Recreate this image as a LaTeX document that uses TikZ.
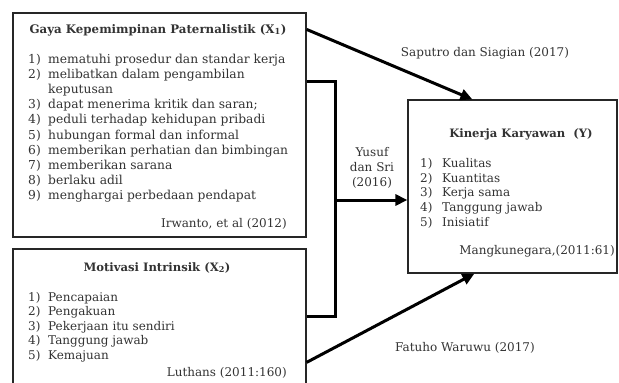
\documentclass[tikz,border=0pt]{standalone}
\usepackage{fontspec}
\setmainfont{DejaVu Serif}
\usetikzlibrary{arrows.meta,calc}
\definecolor{txt}{HTML}{333333}
\newcommand\itm[2]{\makebox[20pt][l]{#1)}#2}
\newcommand\itmy[2]{\makebox[22pt][l]{#1)}#2}
\begin{document}
\begin{tikzpicture}[x=1pt,y=-1pt,
  box/.style={draw=black!85,line width=1.2pt,inner sep=0pt},
  lbl/.style={text=txt,font=\fontsize{12}{15.1}\selectfont,inner sep=0pt},
  ttl/.style={text=txt,font=\fontsize{11.6}{14}\selectfont\bfseries,inner sep=0pt},
  conn/.style={line width=3pt,line join=miter},
  arr/.style={conn,-{Triangle[length=12pt,width=11pt]}}]
\useasboundingbox (0,0) rectangle (619,383);
\fill[white] (0,0) rectangle (619,383);
% boxes
\node[box,minimum width=293pt,minimum height=224pt] (x1) at (159.5,125) {};
\node[box,minimum width=293pt,minimum height=160pt] (x2) at (159.5,329) {};
\node[box,minimum width=209pt,minimum height=173pt] (y) at (512.5,186.5) {};
% X1 texts
\node[ttl,anchor=base,font=\fontsize{11.8}{14}\selectfont\bfseries] (x1t) at (158,33) {Gaya Kepemimpinan Paternalistik (X\textsubscript{1})};
\node[lbl,anchor=north west,align=left,font=\fontsize{12.3}{15.1}\selectfont] (x1l) at (28,54) {\itm{1}{mematuhi prosedur dan standar kerja}\\
\itm{2}{melibatkan dalam pengambilan}\\
\hspace*{20pt}keputusan\\
\itm{3}{dapat menerima kritik dan saran;}\\
\itm{4}{peduli terhadap kehidupan pribadi}\\
\itm{5}{hubungan formal dan informal}\\
\itm{6}{memberikan perhatian dan bimbingan}\\
\itm{7}{memberikan sarana}\\
\itm{8}{berlaku adil}\\
\itm{9}{menghargai perbedaan pendapat}};
\node[lbl,anchor=base east] (x1s) at (287,227) {Irwanto, et al (2012)};
% X2 texts
\node[ttl,anchor=base] (x2t) at (157,271) {Motivasi Intrinsik (X\textsubscript{2})};
\node[lbl,anchor=north west,align=left,font=\fontsize{12}{14.5}\selectfont] (x2l) at (28,292) {\itm{1}{Pencapaian}\\
\itm{2}{Pengakuan}\\
\itm{3}{Pekerjaan itu sendiri}\\
\itm{4}{Tanggung jawab}\\
\itm{5}{Kemajuan}};
\node[lbl,anchor=base east] (x2s) at (287,376) {Luthans (2011:160)};
% Y texts
\node[ttl,anchor=base] (yt) at (521,137) {Kinerja Karyawan~ (Y)};
\node[lbl,anchor=north west,align=left,font=\fontsize{12}{14.75}\selectfont] (yl) at (420,158) {\itmy{1}{Kualitas}\\
\itmy{2}{Kuantitas}\\
\itmy{3}{Kerja sama}\\
\itmy{4}{Tanggung jawab}\\
\itmy{5}{Inisiatif}};
\node[lbl,anchor=base east] (ys) at (615,254) {Mangkunegara,(2011:61)};
% connectors
\coordinate (j) at (335,200);
\draw[arr] ($(x1.north east)+(0,17)$) -- ($(y.north west)+(65,0)$);
\draw[conn] ($(x1.north east)+(0,69)$) -| (j) |- ($(x2.north east)+(0,68)$);
\draw[arr] (j) -- (y.west |- j);
\draw[arr] ($(x2.north east)+(0,114)$) -- ($(y.south west)+(67,0)$);
% connector labels
\node[lbl,anchor=base] (l1) at (485,56) {Saputro dan Siagian (2017)};
\node[lbl,align=center] (l2) at (372,168) {Yusuf\\dan Sri\\(2016)};
\node[lbl,anchor=base] (l3) at (465,351) {Fatuho Waruwu (2017)};
\end{tikzpicture}
\end{document}
